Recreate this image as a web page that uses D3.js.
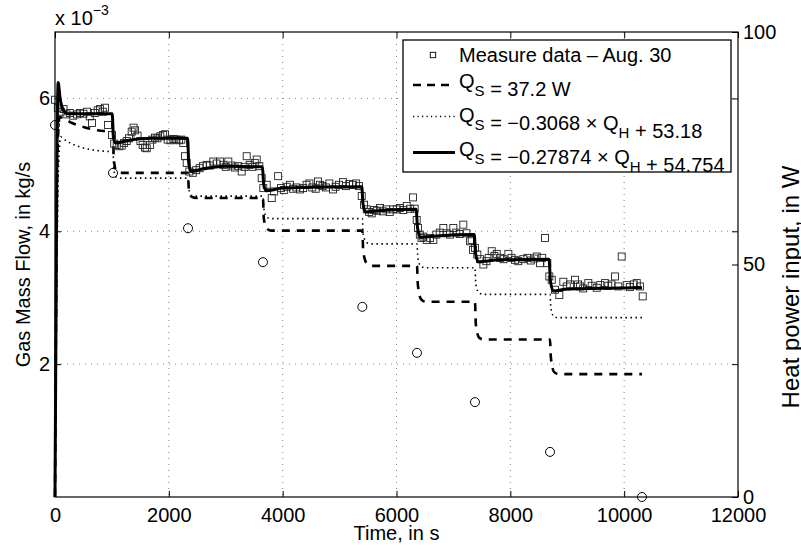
<!DOCTYPE html>
<html>
<head>
<meta charset="utf-8">
<script src="https://cdn.jsdelivr.net/npm/d3@7"></script>
<style>
  body { margin: 0; background: #fff; }
  text { font-family: "Liberation Sans", Arial, Helvetica, sans-serif; fill: #000; }
</style>
</head>
<body>
<svg id="chart" width="801" height="550"></svg>
<script>
// axis ticks
const timeTicks = [0, 2000, 4000, 6000, 8000, 10000, 12000];
const flowTicks = [2, 4, 6];
const powerTicks = [0, 50, 100];

// heat power input steps (right axis, W)
const stepTime = [0, 1019, 2337, 3654, 5400, 6360, 7379, 8697, 10313];
const heatPower = [80, 69.7, 57.8, 50.5, 40.9, 31, 20.4, 9.7, 0];

// measured gas mass flow, [time s, flow x1e-3 kg/s]
const measured = [
  [0, 5.98], [50, 5.86], [100, 5.80], [150, 5.84], [200, 5.76], [260, 5.78], [320, 5.74],
  [387, 5.76], [440, 5.78], [500, 5.77], [562, 5.80], [610, 5.73], [650, 5.63], [700, 5.78],
  [750, 5.82], [790, 5.84], [840, 5.80], [878, 5.86], [931, 5.60], [1001, 5.45],
  [1040, 5.32], [1084, 5.30], [1130, 5.28], [1172, 5.29], [1215, 5.33], [1260, 5.36],
  [1300, 5.40], [1347, 5.50], [1380, 5.56], [1405, 5.52], [1450, 5.44], [1500, 5.36],
  [1540, 5.30], [1580, 5.26], [1611, 5.25], [1669, 5.30], [1710, 5.38], [1757, 5.41],
  [1800, 5.40], [1850, 5.43], [1900, 5.45], [1933, 5.46], [1980, 5.38], [2030, 5.37],
  [2080, 5.39], [2130, 5.38], [2180, 5.37], [2220, 5.38], [2254, 5.33], [2284, 5.13], [2314, 5.03],
  [2360, 4.90], [2420, 4.88], [2480, 4.92], [2540, 4.95], [2600, 4.98], [2665, 5.00],
  [2720, 4.99], [2781, 5.05], [2840, 5.02], [2899, 5.05], [2960, 5.00], [3000, 4.97],
  [3045, 5.05], [3100, 4.99], [3160, 4.96], [3220, 4.98], [3280, 4.90], [3330, 4.97],
  [3368, 5.13], [3420, 5.00], [3470, 4.97], [3510, 5.03], [3544, 5.08], [3590, 4.98], [3632, 4.80],
  [3660, 4.65], [3720, 4.70], [3808, 4.50], [3850, 4.60], [3920, 4.83], [3970, 4.65],
  [4020, 4.62], [4070, 4.67], [4129, 4.70], [4180, 4.64], [4240, 4.66], [4305, 4.63],
  [4360, 4.65], [4420, 4.70], [4470, 4.72], [4520, 4.66], [4580, 4.64], [4621, 4.75],
  [4656, 4.70], [4700, 4.68], [4760, 4.66], [4820, 4.72], [4885, 4.63], [4930, 4.67],
  [4990, 4.70], [5060, 4.74], [5110, 4.68], [5170, 4.71], [5236, 4.70], [5290, 4.72],
  [5340, 4.68], [5389, 4.53],
  [5430, 4.40], [5477, 4.33], [5520, 4.29], [5565, 4.27], [5610, 4.32], [5660, 4.31],
  [5710, 4.35], [5760, 4.30], [5820, 4.33], [5880, 4.29], [5940, 4.33], [6004, 4.33],
  [6060, 4.35], [6120, 4.32], [6180, 4.38], [6240, 4.34], [6290, 4.51], [6320, 4.34],
  [6355, 4.17], [6378, 4.05],
  [6410, 3.95], [6440, 3.90], [6471, 3.92], [6531, 3.87], [6590, 3.90], [6647, 3.87],
  [6700, 3.95], [6760, 3.98], [6823, 4.05], [6880, 3.97], [6940, 3.95], [6998, 4.05],
  [7050, 3.98], [7110, 3.96], [7174, 4.10], [7230, 3.97], [7292, 3.85], [7321, 3.87], [7345, 3.72],
  [7379, 3.75], [7420, 3.65], [7469, 3.58], [7526, 3.50], [7580, 3.55], [7620, 3.60],
  [7673, 3.70], [7720, 3.63], [7761, 3.66], [7820, 3.60], [7880, 3.58], [7965, 3.66],
  [8020, 3.60], [8082, 3.57], [8140, 3.55], [8228, 3.58], [8300, 3.60], [8360, 3.56],
  [8420, 3.59], [8463, 3.62], [8522, 3.52], [8560, 3.60], [8610, 3.90], [8650, 3.52], [8685, 3.32],
  [8727, 3.27], [8785, 3.12], [8861, 3.04], [8931, 3.24], [8991, 3.17], [9050, 3.20],
  [9136, 3.27], [9190, 3.20], [9224, 3.17], [9280, 3.14], [9370, 3.22], [9430, 3.18],
  [9518, 3.15], [9580, 3.19], [9663, 3.22], [9720, 3.18], [9777, 3.20], [9839, 3.32],
  [9897, 3.17], [9957, 3.62], [10045, 3.19], [10100, 3.16], [10170, 3.20], [10221, 3.22],
  [10279, 3.17], [10326, 3.02]
];

// model: Q_S = 37.2 W (dashed)
const modelConst = [
  [0, 0], [45, 5.2], [80, 5.72], [150, 5.70], [300, 5.63], [500, 5.57], [750, 5.52], [1019, 5.49],
  [1032, 5.10], [1070, 4.92], [1150, 4.88], [2337, 4.88],
  [2350, 4.65], [2400, 4.52], [2480, 4.50], [3654, 4.50],
  [3668, 4.20], [3720, 4.04], [3800, 4.01], [5400, 4.01],
  [5415, 3.70], [5475, 3.52], [5560, 3.48], [6360, 3.48],
  [6375, 3.20], [6430, 2.98], [6510, 2.94], [7379, 2.94],
  [7394, 2.60], [7450, 2.40], [7530, 2.37], [8697, 2.37],
  [8712, 2.10], [8770, 1.88], [8850, 1.85], [10313, 1.85]
];

// model: Q_S = -0.3068 Q_H + 53.18 (dotted)
const modelLin1 = [
  [0, 0], [60, 4.9], [100, 5.42], [200, 5.36], [400, 5.28], [700, 5.22], [1019, 5.19],
  [1035, 4.92], [1080, 4.81], [1150, 4.80], [2337, 4.80],
  [2350, 4.64], [2400, 4.54], [2480, 4.53], [3654, 4.53],
  [3668, 4.35], [3720, 4.21], [3800, 4.19], [5400, 4.19],
  [5415, 3.95], [5475, 3.83], [5560, 3.81], [6360, 3.81],
  [6375, 3.60], [6430, 3.47], [6510, 3.45], [7379, 3.45],
  [7394, 3.20], [7450, 3.07], [7530, 3.05], [8697, 3.05],
  [8712, 2.85], [8770, 2.71], [8850, 2.70], [10313, 2.70]
];

// model: Q_S = -0.27874 Q_H + 54.754 (solid)
const modelLin2 = [
  [0, 0], [30, 4.6], [55, 6.24], [90, 6.0], [150, 5.82], [220, 5.77], [1005, 5.77],
  [1025, 5.45], [1055, 5.33], [1300, 5.37], [1700, 5.40], [2330, 5.40],
  [2350, 5.02], [2390, 4.90], [2600, 4.94], [3000, 4.98], [3645, 4.97],
  [3665, 4.72], [3710, 4.61], [4000, 4.65], [5390, 4.67],
  [5410, 4.42], [5455, 4.29], [5700, 4.31], [6345, 4.33],
  [6370, 4.05], [6420, 3.91], [6700, 3.93], [7365, 3.95],
  [7390, 3.66], [7440, 3.54], [7800, 3.57], [8680, 3.58],
  [8705, 3.25], [8755, 3.10], [9000, 3.13], [10313, 3.15]
];

const svg = d3.select("#chart");
const pLeft = 55, pRight = 738, pTop = 32, pBottom = 497;

const x = d3.scaleLinear().domain([0, 12000]).range([pLeft, pRight]);
const yFlow = d3.scaleLinear().domain([0, 7]).range([pBottom, pTop]);
const yPower = d3.scaleLinear().domain([0, 100]).range([pBottom, pTop]);

// grid
const grid = svg.append("g").attr("stroke", "#666").attr("stroke-width", 0.8).attr("stroke-dasharray", "1,5");
grid.selectAll("line.gx").data(timeTicks.slice(1, -1)).enter().append("line")
  .attr("x1", d => x(d)).attr("x2", d => x(d)).attr("y1", pTop).attr("y2", pBottom);
grid.selectAll("line.gy").data(flowTicks).enter().append("line")
  .attr("x1", pLeft).attr("x2", pRight).attr("y1", d => yFlow(d)).attr("y2", d => yFlow(d));

// model lines
const line = d3.line().x(d => x(d[0])).y(d => yFlow(d[1])).curve(d3.curveMonotoneX);
svg.append("path").datum(modelLin1).attr("d", line)
  .attr("fill", "none").attr("stroke", "#000").attr("stroke-width", 1.6).attr("stroke-dasharray", "1.5,3.5");
svg.append("path").datum(modelConst).attr("d", line)
  .attr("fill", "none").attr("stroke", "#000").attr("stroke-width", 2.6).attr("stroke-dasharray", "8,7");

// measured squares
const sq = 7;
svg.append("g").selectAll("rect").data(measured).enter().append("rect")
  .attr("x", d => x(d[0]) - sq / 2).attr("y", d => yFlow(d[1]) - sq / 2)
  .attr("width", sq).attr("height", sq)
  .attr("fill", "none").attr("stroke", "#222").attr("stroke-width", 0.9);

svg.append("path").datum(modelLin2).attr("d", line)
  .attr("fill", "none").attr("stroke", "#000").attr("stroke-width", 3);

// heat power circles
svg.append("g").selectAll("circle").data(stepTime).enter().append("circle")
  .attr("cx", d => x(d)).attr("cy", (d, i) => yPower(heatPower[i])).attr("r", 4.5)
  .attr("fill", "none").attr("stroke", "#000").attr("stroke-width", 1);

// axes
function styleAxis(g) {
  g.select(".domain").remove();
  g.selectAll(".tick line").attr("stroke", "#000").attr("stroke-width", 1);
  g.selectAll(".tick text").attr("font-size", 20).attr("font-family", "Liberation Sans, Arial, sans-serif");
}
svg.append("g").attr("transform", `translate(0,${pBottom})`)
  .call(d3.axisBottom(x).tickValues(timeTicks).tickSize(-6).tickPadding(11).tickFormat(d3.format("d")))
  .call(styleAxis);
svg.append("g").attr("transform", `translate(0,${pTop})`)
  .call(d3.axisTop(x).tickValues(timeTicks).tickSize(-6).tickFormat(""))
  .call(styleAxis);
svg.append("g").attr("transform", `translate(${pLeft},0)`)
  .call(d3.axisLeft(yFlow).tickValues(flowTicks).tickSize(-6).tickPadding(5).tickFormat(d3.format("d")))
  .call(styleAxis);
svg.append("g").attr("transform", `translate(${pRight},0)`)
  .call(d3.axisRight(yFlow).tickValues(flowTicks).tickSize(-6).tickFormat(""))
  .call(styleAxis);
svg.append("g").attr("transform", `translate(${pRight},0)`)
  .call(d3.axisRight(yPower).tickValues(powerTicks).tickSize(-6).tickPadding(5).tickFormat(d3.format("d")))
  .call(styleAxis);

svg.append("rect").attr("x", pLeft).attr("y", pTop).attr("width", pRight - pLeft).attr("height", pBottom - pTop)
  .attr("fill", "none").attr("stroke", "#000").attr("stroke-width", 1.2);

// scale factor
const expo = svg.append("text").attr("x", pLeft).attr("y", 25).attr("font-size", 20);
expo.append("tspan").text("x 10");
expo.append("tspan").attr("dy", -10).attr("font-size", 14).text("\u22123");

// axis labels
svg.append("text").attr("x", (pLeft + pRight) / 2).attr("y", 540).attr("text-anchor", "middle")
  .attr("font-size", 20).text("Time, in s");
svg.append("text").attr("transform", `translate(30,${(pTop + pBottom) / 2}) rotate(-90)`)
  .attr("text-anchor", "middle").attr("font-size", 20).text("Gas Mass Flow, in kg/s");
svg.append("text").attr("transform", "translate(799,287) rotate(-90)")
  .attr("text-anchor", "middle").attr("font-size", 24).text("Heat power input, in W");

// legend
const lg = svg.append("g");
lg.append("rect").attr("x", 403).attr("y", 40).attr("width", 328).attr("height", 132)
  .attr("fill", "#fff").attr("stroke", "#000").attr("stroke-width", 1.3);
lg.append("rect").attr("x", 433 - 2.7).attr("y", 55 - 2.7).attr("width", 5.4).attr("height", 5.4)
  .attr("fill", "none").attr("stroke", "#000").attr("stroke-width", 0.9);
lg.append("line").attr("x1", 413).attr("x2", 455).attr("y1", 85).attr("y2", 85)
  .attr("stroke", "#000").attr("stroke-width", 2.6).attr("stroke-dasharray", "8,6");
lg.append("line").attr("x1", 413).attr("x2", 455).attr("y1", 116.5).attr("y2", 116.5)
  .attr("stroke", "#000").attr("stroke-width", 1.3).attr("stroke-dasharray", "1.2,3.3");
lg.append("line").attr("x1", 413).attr("x2", 455).attr("y1", 152.5).attr("y2", 152.5)
  .attr("stroke", "#000").attr("stroke-width", 3);

lg.append("text").attr("x", 459).attr("y", 62).attr("font-size", 20).text("Measure data \u2013 Aug. 30");

function qText(y, parts) {
  const t = lg.append("text").attr("x", 459).attr("y", y).attr("font-size", 20);
  parts.forEach(p => {
    if (p.sub) {
      t.append("tspan").attr("dy", 8).attr("font-size", 15).text(p.sub);
      t.append("tspan").attr("dy", -8).text("");
    } else {
      t.append("tspan").text(p.t);
    }
  });
}
qText(88, [{ t: "Q" }, { sub: "S" }, { t: " = 37.2 W" }]);
qText(121.5, [{ t: "Q" }, { sub: "S" }, { t: " = \u22120.3068 \u00d7 Q" }, { sub: "H" }, { t: " + 53.18" }]);
qText(156, [{ t: "Q" }, { sub: "S" }, { t: " = \u22120.27874 \u00d7 Q" }, { sub: "H" }, { t: " + 54.754" }]);
</script>
</body>
</html>
